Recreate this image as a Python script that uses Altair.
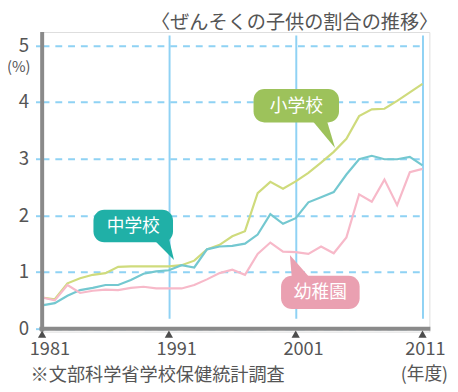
import altair as alt
import pandas as pd

# ---- data ----
years = list(range(1981, 2012))
shogakko = [0.55, 0.52, 0.80, 0.89, 0.95, 0.98, 1.09, 1.10, 1.10, 1.10, 1.10,
            1.12, 1.20, 1.40, 1.48, 1.63, 1.72, 2.39, 2.59, 2.47, 2.60,
            2.75, 2.93, 3.12, 3.35, 3.75, 3.87, 3.88, 4.02, 4.17, 4.32]
chugakko = [0.41, 0.45, 0.58, 0.68, 0.72, 0.77, 0.77, 0.86, 0.97, 1.01, 1.03,
            1.12, 1.08, 1.40, 1.45, 1.46, 1.50, 1.66, 2.02, 1.85, 1.95,
            2.23, 2.32, 2.41, 2.72, 2.99, 3.05, 2.99, 2.99, 3.03, 2.88]
yochien = [0.55, 0.50, 0.77, 0.63, 0.67, 0.69, 0.68, 0.72, 0.74, 0.71, 0.71,
           0.71, 0.77, 0.87, 0.98, 1.04, 0.95, 1.32, 1.52, 1.36, 1.35,
           1.32, 1.45, 1.33, 1.61, 2.37, 2.24, 2.63, 2.18, 2.76, 2.82]
series_names = ["小学校", "中学校", "幼稚園"]
x_ticks = [1981, 1991, 2001, 2011]
y_ticks = [0, 1, 2, 3, 4, 5]

rows = []
for name, vals in zip(series_names, [shogakko, chugakko, yochien]):
    for y, v in zip(years, vals):
        rows.append({"year": y, "value": v, "series": name})
df = pd.DataFrame(rows)
ticks_df = pd.DataFrame({"year": x_ticks, "lab": [str(t) for t in x_ticks]})

FONT = "Noto Sans CJK JP"
BLUE = "#00a0de"
GRID = "#8fd2f4"
GRAY = "#8a8a8a"
TXT = "#555555"
line_colors = ["#cfdb7c", "#74c8d0", "#f7b9c9"]
box_colors = {"小学校": "#9dc25b", "中学校": "#20b0a7", "幼稚園": "#eaa0b1"}

W, H = 396, 305
OX, OY = 41, 29  # page position of plot area

xscale = alt.Scale(domain=[1981, 2011], range=[1.7, 389], nice=False, zero=False)
yscale = alt.Scale(domain=[0, 5], range=[302, 13.5], nice=False, zero=False)
xaxis = alt.Axis(values=x_ticks, format="d", title=None, grid=True, gridColor=GRID,
                 gridWidth=2, ticks=False, domain=False, labels=False)
yaxis = alt.Axis(values=y_ticks, title=None, grid=True, gridColor=GRID, gridWidth=2,
                 gridDash=[7, 6], ticks=True, tickColor=GRID, tickWidth=2, tickSize=5,
                 domain=False, labelFont=FONT, labelFontSize=19, labelColor=TXT,
                 labelPadding=7)

X = alt.X("year:Q", scale=xscale, axis=xaxis)
Y = alt.Y("value:Q", scale=yscale, axis=yaxis)

lines = alt.Chart(df).mark_line(strokeWidth=2.2).encode(
    x=X, y=Y,
    color=alt.Color("series:N", scale=alt.Scale(domain=series_names, range=line_colors),
                    legend=None),
)

one = pd.DataFrame({"k": [0]})

left_bar = alt.Chart(one).mark_rule(color=GRAY, strokeWidth=4).encode(
    x=alt.value(1.8), y=alt.value(0), y2=alt.value(H))
bottom_bar = alt.Chart(one).mark_rule(color=GRAY, strokeWidth=4).encode(
    x=alt.value(-1), x2=alt.value(W + 1), y=alt.value(302))

tri = alt.Chart(ticks_df).mark_point(shape="triangle-up", filled=True, size=70,
                                     color="#4d4d4d", opacity=1).encode(
    x=X, y=alt.value(307.5))

xlab1 = alt.Chart(ticks_df[ticks_df.year < 2011]).mark_text(
    font=FONT, fontSize=18.5, color=TXT, align="center", baseline="middle", dx=8).encode(
    x=X, y=alt.value(323), text="lab:N")
xlab2 = alt.Chart(ticks_df[ticks_df.year == 2011]).mark_text(
    font=FONT, fontSize=18.5, color=TXT, align="center", baseline="middle", dx=3).encode(
    x=X, y=alt.value(323), text="lab:N")


def pointer(verts):
    xs = [v[0] for v in verts]
    ys = [v[1] for v in verts]
    cx = (min(xs) + max(xs)) / 2
    cy = (min(ys) + max(ys)) / 2
    s = max(max(xs) - min(xs), max(ys) - min(ys)) / 2
    path = "M" + "L".join(f"{(x - cx) / s:.3f},{(y - cy) / s:.3f}" for x, y in verts) + "Z"
    return cx - OX, cy - OY, (2 * s) ** 2, path


def callout(label, box, verts):
    x0, y0, x1, y1 = box
    color = box_colors[label]
    rect = alt.Chart(one).mark_rect(color=color, cornerRadius=11).encode(
        x=alt.value(x0 - OX), x2=alt.value(x1 - OX),
        y=alt.value(y0 - OY), y2=alt.value(y1 - OY))
    px, py, size, path = pointer(verts)
    tip = alt.Chart(one).mark_point(shape=path, filled=True, size=size, color=color,
                                    opacity=1, strokeWidth=0).encode(
        x=alt.value(px), y=alt.value(py))
    txt = alt.Chart(one).mark_text(text=label, font=FONT, fontSize=18, color="white",
                                   align="center", baseline="middle").encode(
        x=alt.value((x0 + x1) / 2 - OX), y=alt.value((y0 + y1) / 2 - OY + 1))
    return [rect, tip, txt]


c1 = callout("小学校", (258, 87, 345, 121), [(316, 117), (332, 117), (341, 147)])
c2 = callout("中学校", (95, 210, 176, 243), [(156, 240), (172, 240), (177, 261)])
c3 = callout("幼稚園", (286, 277, 366, 311), [(297, 280), (316, 280), (295, 256)])


def label(text, x, y, size, align):
    return alt.Chart(one).mark_text(text=text, font=FONT, fontSize=size, color=TXT,
                                    align=align, baseline="middle").encode(
        x=alt.value(x - OX), y=alt.value(y - OY))


texts = [
    label("〈ぜんそくの子供の割合の推移〉", 446, 19.5, 19.5, "right"),
    label("(%)", 19, 65, 15, "center"),
    label("※文部科学省学校保健統計調査", 31, 378, 18.5, "left"),
    label("(年度)", 456, 378, 18, "right"),
]

chart = alt.layer(lines, left_bar, bottom_bar, tri, xlab1, xlab2,
                  *c1, *c2, *c3, *texts).properties(
    width=W, height=H,
    autosize=alt.AutoSizeParams(type="none"),
    padding={"left": OX - 8, "top": OY - 8, "right": 450 - (OX - 8) - W,
             "bottom": 384 - (OY - 8) - H},
).configure_view(fill=BLUE, stroke=None).configure(background="white")

chart.save("out.html", embed_options={"renderer": "svg", "actions": False})
